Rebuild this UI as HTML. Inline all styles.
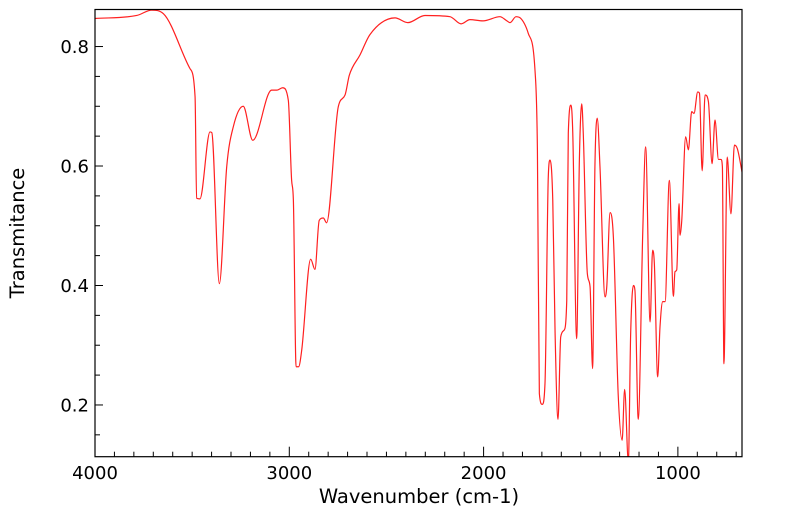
<!DOCTYPE html>
<html><head><meta charset="utf-8"><style>
html,body{margin:0;padding:0;background:#fff;}
svg{display:block;font-family:"DejaVu Sans","Liberation Sans",sans-serif;}
</style></head><body>
<svg id="chart" width="799" height="516" viewBox="0 0 799 516" xmlns="http://www.w3.org/2000/svg"></svg>
<script>
const wavenumbers = [4000,3785,3708,3648,3511,3485,3477,3460,3408,3399,3360,3322,3288,3237,3188,3091,3065,3034,3005,2988,2979,2965,2952,2936,2890,2868,2846,2825,2808,2748,2713,2691,2636,2585,2456,2390,2302,2173,2116,2070,2003,1916,1880,1864,1833,1812,1770,1735,1723,1713,1698,1684,1667,1658,1644,1632,1617,1603,1586,1572,1564,1550,1541,1521,1507,1495,1487,1466,1452,1439,1427,1415,1401,1375,1366,1349,1332,1307,1287,1274,1255,1243,1229,1221,1204,1181,1166,1143,1130,1121,1104,1092,1078,1066,1044,1023,1015,1006,994,989,980,960,946,929,917,898,889,875,860,843,824,809,791,778,771,763,746,727,709,694,667];
const transmittance = [0.847,0.852,0.861,0.855,0.763,0.716,0.546,0.545,0.657,0.656,0.403,0.599,0.666,0.700,0.643,0.727,0.727,0.731,0.710,0.576,0.543,0.264,0.264,0.292,0.444,0.427,0.509,0.513,0.505,0.699,0.719,0.752,0.786,0.820,0.848,0.840,0.852,0.850,0.838,0.845,0.843,0.850,0.843,0.840,0.850,0.848,0.822,0.758,0.627,0.219,0.201,0.236,0.582,0.610,0.543,0.320,0.176,0.314,0.325,0.375,0.655,0.702,0.655,0.311,0.610,0.704,0.655,0.420,0.398,0.261,0.599,0.680,0.599,0.381,0.398,0.522,0.481,0.216,0.141,0.226,0.105,0.320,0.400,0.392,0.176,0.487,0.632,0.339,0.459,0.436,0.247,0.331,0.373,0.373,0.576,0.382,0.423,0.426,0.537,0.484,0.509,0.649,0.627,0.691,0.688,0.724,0.722,0.592,0.719,0.708,0.604,0.677,0.611,0.611,0.599,0.269,0.615,0.520,0.635,0.629,0.585];
const xTickLabels = [4000,3000,2000,1000];
const yTickLabels = [0.2,0.4,0.6,0.8];

const NS="http://www.w3.org/2000/svg";
const svg=document.getElementById('chart');
const L=95,R=742,T=9.5,B=456.7;
const X0=4000,X1=670,Y0=0.1134,Y1=0.862;
function xs(w){return L+(X0-w)/(X0-X1)*(R-L);}
function ys(v){return B-(v-Y0)/(Y1-Y0)*(B-T);}
function mk(tag,attrs){const e=document.createElementNS(NS,tag);for(const k in attrs)e.setAttribute(k,attrs[k]);svg.appendChild(e);return e;}

const defs=mk('clipPath',{id:'clip'});
const cr=document.createElementNS(NS,'rect');cr.setAttribute('x',L);cr.setAttribute('y',T);cr.setAttribute('width',R-L);cr.setAttribute('height',B-T);defs.appendChild(cr);

function monoPath(px,py){
  const n=px.length,d=[],m=new Array(n);
  for(let i=0;i<n-1;i++)d.push((py[i+1]-py[i])/(px[i+1]-px[i]));
  m[0]=d[0];m[n-1]=d[n-2];
  for(let i=1;i<n-1;i++){m[i]=(d[i-1]*d[i]<=0)?0:(d[i-1]+d[i])/2;}
  for(let i=0;i<n-1;i++){
    if(d[i]===0){m[i]=0;m[i+1]=0;continue;}
    const a=m[i]/d[i],b=m[i+1]/d[i],s=a*a+b*b;
    if(s>9){const t=3/Math.sqrt(s);m[i]=t*a*d[i];m[i+1]=t*b*d[i];}
  }
  let p='M'+px[0].toFixed(1)+','+py[0].toFixed(1);
  for(let i=0;i<n-1;i++){
    const h=(px[i+1]-px[i])/3;
    p+=' C'+(px[i]+h).toFixed(2)+','+(py[i]+m[i]*h).toFixed(2)+' '+(px[i+1]-h).toFixed(2)+','+(py[i+1]-m[i+1]*h).toFixed(2)+' '+px[i+1].toFixed(2)+','+py[i+1].toFixed(2);
  }
  return p;
}
const line=mk('path',{d:monoPath(wavenumbers.map(xs),transmittance.map(ys)),fill:'none',stroke:'#ff2020','stroke-width':1.2,'stroke-linejoin':'round','clip-path':'url(#clip)'});



const frame=mk('rect',{x:L,y:T,width:R-L,height:B-T,fill:'none',stroke:'#000','stroke-width':1.2});



for(let w=4000;w>=700;w-=100){
  const major=w%1000===0;
  const t=mk('line',{x1:xs(w),x2:xs(w),y1:B,y2:B-(major?10:5),stroke:'#000','stroke-width':1});
  
  
}
xTickLabels.forEach(w=>{
  const t=mk('text',{x:xs(w),y:479,'text-anchor':'middle','font-size':18,fill:'#000'});
  t.textContent=w;
  
  
});
for(let v=0.15;v<=0.85;v+=0.05){
  const major=Math.abs(Math.round(v*10)-v*10)<1e-6 && Math.round(v*10)%2===0;
  const t=mk('line',{x1:L,x2:L+(major?8:5),y1:ys(v),y2:ys(v),stroke:'#000','stroke-width':1});
  
  
}
yTickLabels.forEach(v=>{
  const t=mk('text',{x:89,y:ys(v)+6.5,'text-anchor':'end','font-size':18,fill:'#000'});
  t.textContent=v.toFixed(1);
  
  
});
const xt=mk('text',{x:419,y:503,'text-anchor':'middle','font-size':19.5,fill:'#000'});
xt.textContent='Wavenumber (cm-1)';


const yt=mk('text',{x:24,y:233,'text-anchor':'middle','font-size':19.5,fill:'#000',transform:'rotate(-90 24 233)'});
yt.textContent='Transmitance';


</script>
</body></html>
